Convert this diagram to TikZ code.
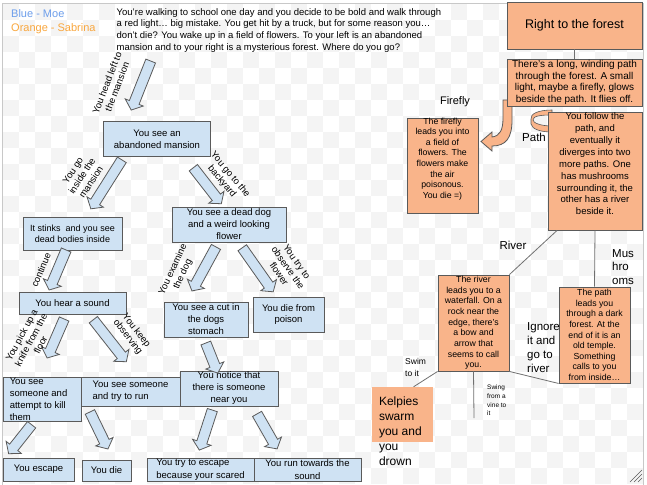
\documentclass[tikz,border=0pt]{standalone}
\usepackage{fontspec}
\setmainfont{Liberation Sans}
\usepackage{tikz}
\usetikzlibrary{calc}
\usetikzlibrary{positioning}
\usetikzlibrary{shapes.arrows}

\definecolor{MoeBlue}{HTML}{CFE2F3}
\definecolor{SabrinaOrange}{HTML}{F9B48A}
\definecolor{BoxLine}{HTML}{5A5A5A}
\definecolor{LinkGray}{HTML}{707070}
\definecolor{CheckGray}{HTML}{F4F4F4}
\definecolor{FrameGray}{HTML}{C8C8C8}
\definecolor{LegendBlue}{HTML}{6D9EEB}
\definecolor{LegendOrange}{HTML}{F9A73E}

\newcommand{\fsz}[2]{\fontsize{#1}{#2}\selectfont}

% block arrow from one named coordinate to another
\newcommand{\flowarrow}[2]{%
  \path let \p1=($(#2)-(#1)$), \n1={atan2(\y1,\x1)}, \n2={veclen(\x1,\y1)} in
    node[blockarrow, minimum height=\n2, rotate=\n1] at ($(#1)!0.5!(#2)$) {};}

\tikzset{
  mansionbox/.style={shape=rectangle, draw=BoxLine, fill=MoeBlue,
    line width=0.9pt, align=center, inner sep=0pt, font=\fsz{9.5}{12}},
  forestbox/.style={mansionbox, fill=SabrinaOrange},
  boxtop/.style={anchor=north, align=center, inner sep=0pt},
  blockarrow/.style={single arrow, draw=BoxLine, fill=MoeBlue,
    line width=0.8pt, text height=0pt, text depth=0pt,
    inner xsep=0pt, inner ysep=4.8pt, single arrow head extend=4.5pt,
    single arrow tip angle=100},
  choicetext/.style={align=center, inner sep=0pt, font=\fsz{9.5}{10.8}},
  pathline/.style={draw=LinkGray, line width=0.8pt},
  pathtext/.style={anchor=north west, align=left, inner sep=0pt,
    font=\fsz{11.5}{13.8}},
}

\begin{document}
\begin{tikzpicture}[x=1pt, y=-1pt]
    \useasboundingbox (0,0) rectangle (647,484);

    % background squares and frame
    \fill[white] (0,0) rectangle (647,484);
    \foreach \i in {0,...,39} {
      \foreach \j in {0,...,29} {
        \pgfmathtruncatemacro{\odd}{mod(\i+\j,2)}
        \ifnum\odd=0
          \fill[CheckGray] ({3+16*\i},{4+16*\j}) rectangle ++(16,16);
        \fi
      }
    }
    \draw[FrameGray, line width=1pt] (2.5,3.5) rectangle (643.5,485);
    \foreach \k in {0,4,8} {
      \draw[BoxLine, line width=0.6pt] ({630+\k},482) -- (642,{470+\k});
    }

    % legend and intro
    \node[name=moe, anchor=base west, inner sep=0pt, text=LegendBlue,
      font=\fsz{11}{13}] at (11,18) {Blue - Moe};
    \node[name=sabrina, anchor=base west, inner sep=0pt, text=LegendOrange,
      font=\fsz{11}{13}] at (11,32) {Orange - Sabrina};

    \node[name=intro, anchor=north west, align=left, inner sep=0pt,
      font=\fsz{9.5}{11.7}] at (116.5,8)
      {You’re walking to school one day and you decide to be bold and walk through\\
       a red light… big mistake. You get hit by a truck, but for some reason you…\\
       don’t die? You wake up in a field of flowers. To your left is an abandoned\\
       mansion and to your right is a mysterious forest. Where do you go?};

    % Moe: the mansion
    \node[name=mansion, mansionbox, minimum width=107, minimum height=35]
      at (157,139) {You see an\\abandoned mansion};
    \node[name=stinks, mansionbox, minimum width=99, minimum height=33,
      font=\fsz{9}{11}] at (72.5,233.5) {It stinks\ \ and you see\\dead bodies inside};
    \node[name=deaddog, mansionbox, minimum width=114, minimum height=35]
      at (229,224.5) {You see a dead dog\\and a weird looking\\flower};
    \node[name=sound, mansionbox, minimum width=107, minimum height=22]
      at (72.5,303) {You hear a sound};
    \node[name=cut, mansionbox, minimum width=84, minimum height=35]
      at (206,319.5) {You see a cut in\\the dogs\\stomach};
    \node[name=poison, mansionbox, minimum width=71, minimum height=35,
      font=\fsz{9.5}{11}] at (288.5,314.5) {You die from\\poison};
    \node[name=kill, mansionbox, minimum width=78, minimum height=44,
      label={[anchor=north west, align=left, inner xsep=7pt, inner ysep=1pt,
        font=\fsz{9.5}{12}]north west:{You see\\someone and\\attempt to kill\\them}}]
      at (42,399) {};
    \node[name=run, mansionbox, align=left, minimum width=99, minimum height=29]
      at (130.5,391.5) {You see someone\\and try to run};
    \node[name=notice, mansionbox, minimum width=98, minimum height=35]
      at (229,388.5) {You notice that\\there is someone\\near you};
    \node[name=escape, mansionbox, minimum width=71, minimum height=23]
      at (38.5,469.5) {You escape};
    \node[name=die, mansionbox, minimum width=49, minimum height=21]
      at (106.5,470.5) {You die};
    \node[name=tryescape, mansionbox, align=left, minimum width=107,
      minimum height=23, font=\fsz{9.5}{12.5}] at (200.5,469.5)
      {You try to escape\\because your scared};
    \node[name=runtowards, mansionbox, minimum width=107, minimum height=23,
      font=\fsz{9.5}{12.5}] at (307.5,469.5) {You run towards the\\sound};

    % arrow ends
    \coordinate (a1s) at (151.5,59);  \coordinate (a1e) at (132,108);
    \coordinate (a2s) at (123,158);   \coordinate (a2e) at (92,207);
    \coordinate (a3s) at (192,166);   \coordinate (a3e) at (220,202);
    \coordinate (a4s) at (67,248);    \coordinate (a4e) at (50,288);
    \coordinate (a5s) at (217,245);   \coordinate (a5e) at (193,289);
    \coordinate (a6s) at (241,246);   \coordinate (a6e) at (272,290);
    \coordinate (a7s) at (65,317);    \coordinate (a7e) at (48,356);
    \coordinate (a8s) at (92,318);    \coordinate (a8e) at (125,360);
    \coordinate (a9s) at (205,341);   \coordinate (a9e) at (217,371);
    \coordinate (a10s) at (33,423);   \coordinate (a10e) at (10,452);
    \coordinate (a11s) at (89,410);   \coordinate (a11e) at (107,447);
    \coordinate (a12s) at (213,408);  \coordinate (a12e) at (200,448);
    \coordinate (a13s) at (256,412);  \coordinate (a13e) at (276,447);

    \flowarrow{a1s}{a1e}
    \flowarrow{a2s}{a2e}
    \flowarrow{a3s}{a3e}
    \flowarrow{a4s}{a4e}
    \flowarrow{a5s}{a5e}
    \flowarrow{a6s}{a6e}
    \flowarrow{a7s}{a7e}
    \flowarrow{a8s}{a8e}
    \flowarrow{a9s}{a9e}
    \flowarrow{a10s}{a10e}
    \flowarrow{a11s}{a11e}
    \flowarrow{a12s}{a12e}
    \flowarrow{a13s}{a13e}

    \node[name=headleft, choicetext, rotate=69] at (112,85) {You head left to\\the mansion};
    \node[name=goinside, choicetext, rotate=57] at (82,176) {You go\\inside the\\mansion};
    \node[name=backyard, choicetext, rotate=-50] at (226,178) {You go to the\\backyard};
    \node[name=continue, choicetext, rotate=67] at (41,270) {continue};
    \node[name=examine, choicetext, rotate=65] at (178,272) {You examine\\the dog};
    \node[name=observe, choicetext, rotate=-55] at (288,268) {You try to\\observe the\\flower};
    \node[name=knife, choicetext, rotate=62] at (31,340) {You pick up a\\knife from the\\floor};
    \node[name=keep, choicetext, rotate=-52] at (132,334) {You keep\\observing};

    % Sabrina: the forest
    \filldraw[fill=SabrinaOrange, draw=BoxLine, line width=0.8pt]
      (503,100) -- (503,118) .. controls (503,130) and (500,136) .. (492,137)
      -- (492,132) -- (481,141.5) -- (492,151) -- (492,146)
      .. controls (506,146) and (512,138) .. (512,120) -- (512,100) -- cycle;
    \filldraw[fill=SabrinaOrange, draw=BoxLine, line width=0.6pt]
      (552,110) .. controls (538,110) and (530,114) .. (531,119) -- (531,124)
      .. controls (532,129) and (540,132) .. (552,132) -- (552,126)
      .. controls (541,126) and (533,123) .. (533,120)
      .. controls (533,116) and (540,115) .. (552,115) -- cycle;
    \node[name=pathword, anchor=base west, inner sep=0pt, font=\fsz{11.5}{13.8}]
      at (522,141) {Path};

    \node[name=forest, forestbox, minimum width=135, minimum height=47,
      font=\fsz{12.5}{15}] at (574.5,25.5) {Right to the forest};
    \node[name=winding, forestbox, minimum width=135, minimum height=47,
      font=\fsz{10}{11.8}] at (574.5,82.5)
      {There’s a long, winding path\\through the forest. A small\\light, maybe a firefly, glows\\beside the path. It flies off.};
    \node[name=firefly, forestbox, minimum width=71, minimum height=95,
      label={[boxtop, font=\fsz{8.75}{10.6}]north:{The firefly\\leads you into\\a field of\\flowers. The\\flowers make\\the air\\poisonous.\\You die =)}}]
      at (442.5,165.5) {};
    \node[name=follow, forestbox, minimum width=94, minimum height=118,
      label={[boxtop, font=\fsz{9.5}{11.9}, yshift=-1pt]north:{You follow the\\path, and\\eventually it\\diverges into two\\more paths. One\\has mushrooms\\surrounding it, the\\other has a river\\beside it.}}]
      at (595,171) {};
    \node[name=river, forestbox, minimum width=71, minimum height=96,
      font=\fsz{8.75}{10.66}] at (473.5,323)
      {The river\\leads you to a\\waterfall. On a\\rock near the\\edge, there’s\\a bow and\\arrow that\\seems to call\\you.};
    \node[name=temple, forestbox, minimum width=71, minimum height=96,
      font=\fsz{8.75}{10.6}] at (594.5,335)
      {The path\\leads you\\through a dark\\forest. At the\\end of it is an\\old temple.\\Something\\calls to you\\from inside…};
    \node[name=kelpies, shape=rectangle, fill=SabrinaOrange, minimum width=61,
      minimum height=55,
      label={[anchor=north west, align=left, inner xsep=7pt, inner ysep=0pt,
        yshift=-9.5pt, font=\fsz{12}{15}]north west:{Kelpies\\swarm\\you and\\you\\drown}}]
      at (402.5,414.5) {};

    \coordinate (swingend) at (474,418);

    \path[pathline] (forest.south) -- (winding.north);
    \path[pathline] ($(follow.south west)!0.1!(follow.south east)$) -- (river.north east);
    \path[pathline] (follow.south) -- (temple.north);
    \path[pathline] (river.south east) -- (temple.south west);
    \path[pathline] (river.south west) -- ($(kelpies.north west)!0.68!(kelpies.north east)$);
    \path[pathline] (river.south) -- (swingend);

    \node[name=fireflyword, font=\fsz{11}{13}, inner sep=0pt] at (455,102) {Firefly};
    \node[name=riverword, font=\fsz{11.5}{13.8}, inner sep=0pt] at (513,245) {River};
    \node[name=mushroomword, pathtext] at (612,248.9) {Mus\\hro\\oms};
    \node[name=ignoreword, pathtext] at (527,322.8) {Ignore\\it and\\go to\\river};
    \node[name=swimword, pathtext, font=\fsz{8.5}{12}] at (405,357.9) {Swim\\to it};
    \node[name=swingword, pathtext, font=\fsz{6.5}{8.8}] at (487,384.6) {Swing\\from a\\vine to\\it};
\end{tikzpicture}
\end{document}
